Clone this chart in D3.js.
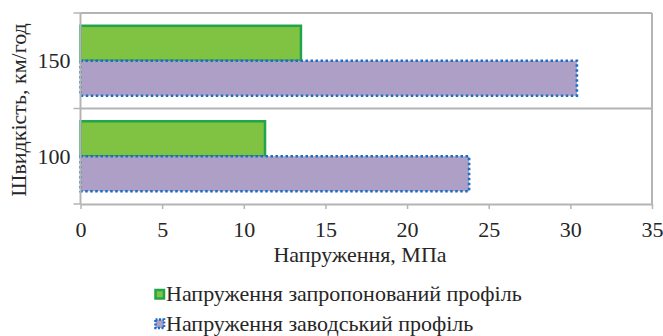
<!DOCTYPE html>
<html>
<head>
<meta charset="utf-8">
<script src="https://cdn.jsdelivr.net/npm/d3@7"></script>
<style>
  html, body { margin: 0; padding: 0; background: #fff; }
</style>
</head>
<body>
<svg id="chart" width="663" height="336" style="font-family:'Liberation Serif', serif"></svg>
<script>
// Speeds (km/h), listed top to bottom
const categories = ["150", "100"];
// Stress, MPa
const proposedValues = [13.5, 11.3];
const factoryValues = [30.4, 23.8];
const seriesNames = ["Напруження запропонований профіль", "Напруження заводський профіль"];
const xTicks = [0, 5, 10, 15, 20, 25, 30, 35];
const xTitle = "Напруження, МПа";
const yTitle = "Швидкість, км/год";

const FONT = "'Liberation Serif', serif";
const TEXT = "#262626";
const FS = 22;

const series = [
  { key: "proposed", name: seriesNames[0], values: proposedValues, fill: "#80c241", stroke: "#1fa64a", dash: null, sw: 2.5 },
  { key: "factory", name: seriesNames[1], values: factoryValues, fill: "#ae9fc7", stroke: "#1a6fc4", dash: "2.5,2.5", sw: 2.6 }
];

const svg = d3.select("#chart");
const m = { left: 80.5, right: 652, top: 13, bottom: 204 };

const x = d3.scaleLinear().domain([0, 35]).range([m.left, m.right]);
const y = d3.scaleBand().domain(categories).range([m.top, m.bottom]).padding(0);
const sub = d3.scaleBand().domain(series.map(s => s.key))
  .range([0, y.bandwidth()]).paddingInner(0).paddingOuter(0.365);

const gridColor = "#b4b4b4";

function label(sel) {
  return sel.attr("font-family", FONT).attr("fill", TEXT).attr("font-size", FS);
}

// Plot frame: top edge, right edge and the boundary between categories
svg.append("line").attr("x1", m.left).attr("x2", m.right).attr("y1", m.top).attr("y2", m.top)
  .attr("stroke", gridColor).attr("stroke-width", 2);
svg.append("line").attr("x1", m.right).attr("x2", m.right).attr("y1", m.top).attr("y2", m.bottom)
  .attr("stroke", gridColor).attr("stroke-width", 2);
categories.slice(1).forEach(c => {
  const yy = y(c);
  svg.append("line").attr("x1", m.left).attr("x2", m.right).attr("y1", yy).attr("y2", yy)
    .attr("stroke", gridColor).attr("stroke-width", 2);
});

// Bars
series.forEach(s => {
  svg.append("g").selectAll("rect").data(categories.map((c, i) => ({ c, v: s.values[i] })))
    .join("rect")
    .attr("x", x(0))
    .attr("y", d => y(d.c) + sub(s.key))
    .attr("width", d => x(d.v) - x(0))
    .attr("height", sub.bandwidth())
    .attr("fill", s.fill)
    .attr("stroke", s.stroke)
    .attr("stroke-width", s.sw)
    .attr("stroke-dasharray", s.dash);
});

// X axis
const xAxis = svg.append("g").attr("transform", `translate(0,${m.bottom})`)
  .call(d3.axisBottom(x).tickValues(xTicks).tickSize(5).tickSizeOuter(0));
xAxis.attr("font-family", FONT).attr("font-size", FS);
xAxis.select(".domain").attr("stroke", gridColor).attr("stroke-width", 2);
xAxis.selectAll(".tick line").attr("stroke", gridColor).attr("stroke-width", 1.5);
label(xAxis.selectAll(".tick text")).attr("y", 33).attr("dy", 0);

// Y axis with ticks on category boundaries
const yAxis = svg.append("g").attr("transform", `translate(${m.left},0)`);
yAxis.append("line").attr("x1", 0).attr("x2", 0).attr("y1", m.top).attr("y2", m.bottom)
  .attr("stroke", gridColor).attr("stroke-width", 2);
const bounds = categories.map(c => y(c)).concat([m.bottom]);
yAxis.selectAll("line.tk").data(bounds).join("line").attr("class", "tk")
  .attr("x1", -7).attr("x2", 0).attr("y1", d => d).attr("y2", d => d)
  .attr("stroke", gridColor).attr("stroke-width", 1.5);
label(yAxis.selectAll("text").data(categories).join("text"))
  .attr("x", -10).attr("y", d => y(d) + y.bandwidth() / 2 + 7.5)
  .attr("text-anchor", "end").text(d => d);

// Axis titles
label(svg.append("text")).attr("x", 360).attr("y", 262)
  .attr("text-anchor", "middle").text(xTitle);
label(svg.append("text")).attr("transform", `translate(26,110) rotate(-90)`)
  .attr("text-anchor", "middle").text(yTitle);

// Legend
const legend = svg.append("g");
series.forEach((s, i) => {
  const ly = 301 + i * 29.5;
  legend.append("rect").attr("x", 155.5).attr("y", ly - 11).attr("width", 8.5).attr("height", 8.5)
    .attr("fill", s.fill).attr("stroke", s.stroke).attr("stroke-width", s.sw)
    .attr("stroke-dasharray", s.dash ? "2,1.5" : null);
  label(legend.append("text")).attr("x", 166).attr("y", ly).text(s.name);
});
</script>
</body>
</html>
